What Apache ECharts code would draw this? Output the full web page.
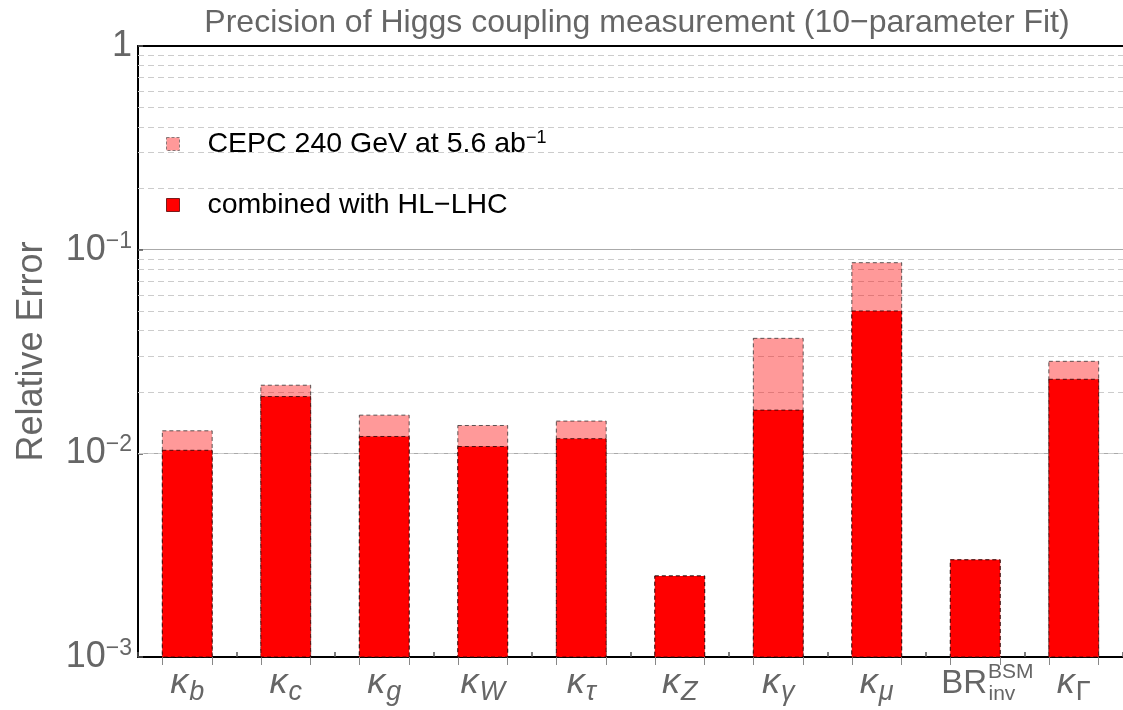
<!DOCTYPE html>
<html>
<head>
<meta charset="utf-8">
<script src="https://cdn.jsdelivr.net/npm/echarts@6/dist/echarts.min.js"></script>
<style>html,body{margin:0;padding:0;background:#fff}#c{width:1123px;height:710px}</style>
</head>
<body>
<div id="c"></div>
<script>
// ---- data ----
var categories = ['kb', 'kc', 'kg', 'kW', 'ktau', 'kZ', 'kgamma', 'kmu', 'BRinv', 'kGamma'];
var cepcValues = [0.0129, 0.0216, 0.0154, 0.0137, 0.0144, 0.0025, 0.0367, 0.0863, 0.0030, 0.0283];
var combinedValues = [0.01035, 0.0190, 0.0121, 0.0108, 0.0118, 0.0025, 0.0163, 0.0500, 0.0030, 0.0231];
var yRange = [0.001, 1];
var minorGrid = [0.002,0.003,0.004,0.005,0.006,0.007,0.008,0.009,
                 0.02,0.03,0.04,0.05,0.06,0.07,0.08,0.09,
                 0.2,0.3,0.4,0.5,0.6,0.7,0.8,0.9];
var seriesNames = ['CEPC 240 GeV at 5.6 ab-1', 'combined with HL-LHC'];

var FONT = '"Liberation Sans", Arial, sans-serif';
var labelMap = {
  kb: '{k|κ}{sub|b}', kc: '{k|κ}{sub|c}', kg: '{k|κ}{sub|g}', kW: '{k|κ}{sub|W}',
  ktau: '{k|κ}{sub|τ}', kZ: '{k|κ}{sub|Z}', kgamma: '{k|κ}{sub|γ}', kmu: '{k|κ}{sub|μ}',
  BRinv: '{br|BR}{sup|BSM}{inv|inv}', kGamma: '{k|κ}{subr|Γ}'
};

var barRatio = 0.506;
var centers = categories.map(function (c, i) { return i + 0.5; });
var edges = [];
categories.forEach(function (c, i) { edges.push(i + 0.5 - barRatio / 2, i + 0.5 + barRatio / 2); });

var lightStyle = {color: 'rgba(255,0,0,0.4)', borderColor: 'rgba(40,40,40,0.75)', borderWidth: 1, borderType: [4, 3]};
var darkStyle = {color: '#ff0000', borderColor: 'rgba(40,0,0,0.8)', borderWidth: 1, borderType: [4, 3]};

function makeRender(st) {
  return function (params, api) {
    var idx = api.value(0), v = api.value(1);
    var top = api.coord([idx, v]);
    var bottom = api.coord([idx, yRange[0]]);
    var w = api.size([1, 0])[0] * barRatio;
    return {
      type: 'rect',
      shape: {x: top[0] - w / 2, y: top[1], width: w, height: bottom[1] - top[1]},
      style: {fill: st.color, stroke: st.borderColor, lineWidth: st.borderWidth, lineDash: st.borderType}
    };
  };
}

var chart = echarts.init(document.getElementById('c'), null, {renderer: 'canvas'});
var option = {
  animation: false,
  backgroundColor: '#fff',
  textStyle: {fontFamily: FONT},
  title: {
    text: 'Precision of Higgs coupling measurement (10\u2212parameter Fit)',
    left: 632, top: 2, textAlign: 'center',
    textStyle: {fontFamily: FONT, fontSize: 32, fontWeight: 'normal', color: '#666'}
  },
  legend: {
    orient: 'vertical', left: 166, top: 129, padding: 0, itemGap: 32,
    itemWidth: 13, itemHeight: 13, icon: 'rect',
    data: [
      {name: seriesNames[0], itemStyle: {color: lightStyle.color, borderColor: 'rgba(60,60,60,0.6)', borderWidth: 1, borderType: [3, 2]}},
      {name: seriesNames[1], itemStyle: {color: darkStyle.color, borderColor: 'rgba(90,0,0,0.8)', borderWidth: 1, borderType: 'solid'}}
    ],
    formatter: function (name) {
      if (name === seriesNames[0]) return '{a|CEPC 240 GeV at 5.6 ab}{s|\u22121}';
      return '{a|combined with HL\u2212LHC}';
    },
    textStyle: {
      padding: [0, 0, 0, 23],
      rich: {
        a: {fontFamily: FONT, fontSize: 28.5, color: '#000', lineHeight: 30, verticalAlign: 'middle'},
        s: {fontFamily: FONT, fontSize: 18, color: '#000', lineHeight: 18, verticalAlign: 'top'}
      }
    }
  },
  grid: {left: 138, right: -3, top: 46, bottom: 53},
  xAxis: [
    {
      type: 'category', data: categories, position: 'bottom',
      axisLine: {lineStyle: {color: '#000', width: 2}},
      axisTick: {show: true, inside: true, length: 5, interval: 0, lineStyle: {color: '#555', width: 1.5}},
      axisLabel: {
        interval: 0, margin: 8,
        formatter: function (v) { return labelMap[v]; },
        rich: {
          k: {fontFamily: FONT, fontSize: 36, fontStyle: 'italic', color: '#666', lineHeight: 38, verticalAlign: 'top'},
          sub: {fontFamily: FONT, fontSize: 27, fontStyle: 'italic', color: '#666', lineHeight: 30, padding: [14, 0, 0, 1], verticalAlign: 'top'},
          subr: {fontFamily: FONT, fontSize: 27, color: '#666', lineHeight: 30, padding: [14, 0, 0, 1], verticalAlign: 'top'},
          br: {fontFamily: FONT, fontSize: 33, color: '#666', lineHeight: 38, padding: [2, 0, 0, 6], verticalAlign: 'top'},
          sup: {fontFamily: FONT, fontSize: 21, color: '#666', lineHeight: 21, verticalAlign: 'top', padding: [-3, 0, 0, 1]},
          inv: {fontFamily: FONT, fontSize: 21, color: '#666', lineHeight: 21, padding: [19, 0, 0, -45], verticalAlign: 'top'}
        }
      },
      splitLine: {show: false}
    },
    {
      type: 'category', data: categories, position: 'top',
      axisLine: {lineStyle: {color: '#000', width: 2}},
      axisTick: {show: false}, axisLabel: {show: false}, splitLine: {show: false}
    },
    {
      type: 'value', min: 0, max: categories.length, position: 'bottom',
      axisLine: {show: false}, axisLabel: {show: false}, splitLine: {show: false},
      axisTick: {show: true, inside: true, length: 5, customValues: centers, lineStyle: {color: '#555', width: 1.5}}
    },
    {
      type: 'value', min: 0, max: categories.length, position: 'bottom',
      axisLine: {show: false}, axisLabel: {show: false}, splitLine: {show: false},
      axisTick: {show: true, inside: false, length: 8, customValues: edges, lineStyle: {color: '#888', width: 1}}
    }
  ],
  yAxis: {
    type: 'log', logBase: 10, min: yRange[0], max: yRange[1],
    name: 'Relative Error', nameLocation: 'middle', nameGap: 88, nameRotate: 90,
    nameTextStyle: {fontFamily: FONT, fontSize: 36, color: '#666'},
    axisLine: {show: true, lineStyle: {color: '#000', width: 2}},
    axisTick: {show: true, inside: true, length: 5, lineStyle: {color: '#555', width: 1.5}},
    splitLine: {show: true, lineStyle: {color: '#aaa', width: 1}},
    minorTick: {show: false}, minorSplitLine: {show: false},
    axisLabel: {
      margin: 6,
      formatter: function (v) {
        if (Math.abs(v - 1) < 1e-9) return '{b|1}';
        var e = Math.round(Math.log10(v));
        return '{b|10}{s|\u2212' + (-e) + '}';
      },
      rich: {
        b: {fontFamily: FONT, fontSize: 36, color: '#666', lineHeight: 40, verticalAlign: 'middle'},
        s: {fontFamily: FONT, fontSize: 23, color: '#666', lineHeight: 23, verticalAlign: 'top'}
      }
    }
  },
  series: [
    {
      name: seriesNames[0], type: 'custom', xAxisIndex: 0, yAxisIndex: 0, z: 2,
      data: cepcValues.map(function (v, i) { return [i, v]; }),
      encode: {x: 0, y: 1},
      itemStyle: lightStyle,
      renderItem: makeRender(lightStyle),
      markLine: {
        silent: true, symbol: ['none', 'none'], label: {show: false}, z: 1,
        lineStyle: {color: '#ccc', width: 1, type: [6, 4]},
        data: minorGrid.map(function (v) { return {yAxis: v}; })
      }
    },
    {
      name: seriesNames[1], type: 'custom', xAxisIndex: 0, yAxisIndex: 0, z: 3,
      data: combinedValues.map(function (v, i) { return [i, v]; }),
      encode: {x: 0, y: 1},
      itemStyle: darkStyle,
      renderItem: makeRender(darkStyle)
    }
  ]
};
chart.setOption(option);
</script>
</body>
</html>
